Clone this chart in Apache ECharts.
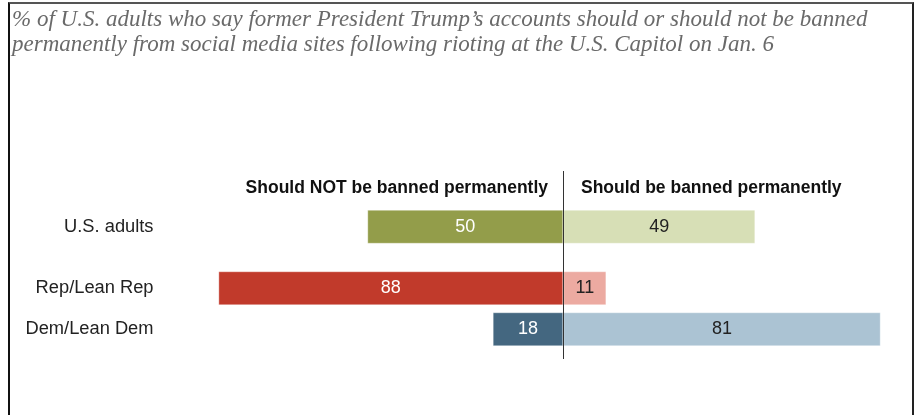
<!DOCTYPE html>
<html>
<head>
<meta charset="utf-8">
<script src="https://cdn.jsdelivr.net/npm/echarts@6/dist/echarts.min.js"></script>
<style>
  html, body { margin: 0; padding: 0; background: #fff; }
  #frame { position: absolute; left: 8px; top: 2px; width: 902px; height: 420px;
           border-left: 2px solid #111; border-right: 2px solid #222; border-top: 2px solid #555; }
  #chart { position: absolute; left: 0; top: 0; width: 916px; height: 415px; }
</style>
</head>
<body>
<div id="frame"></div>
<div id="chart"></div>
<script>
// ---- data ----
const titleLines = [
  "% of U.S. adults who say former President Trump\u2019s accounts should or should not be banned",
  "permanently from social media sites following rioting at the U.S. Capitol on Jan. 6"
];
const categories = ["U.S. adults", "Rep/Lean Rep", "Dem/Lean Dem"];
const notBanned = [50, 88, 18];
const banned = [49, 11, 81];
const headerLeft = "Should NOT be banned permanently";
const headerRight = "Should be banned permanently";
const darkColors = ["#939d4a", "#c13a2b", "#446780"];
const lightColors = ["#d7dfb6", "#ecaaa1", "#abc3d3"];
const darkText = ["#ffffff", "#ffffff", "#ffffff"];
const lightText = ["#222222", "#222222", "#222222"];

// layout: slot index of each row (spacers between groups)
const rowSlot = [0, 3, 5];
const nSlots = 6;
const axisCats = new Array(nSlots).fill("");
rowSlot.forEach((s, i) => { axisCats[s] = categories[i]; });
const leftData = new Array(nSlots).fill("-");
const rightData = new Array(nSlots).fill("-");
rowSlot.forEach((s, i) => {
  leftData[s] = { value: -notBanned[i], itemStyle: { color: darkColors[i] }, label: { color: darkText[i] } };
  rightData[s] = { value: banned[i], itemStyle: { color: lightColors[i] }, label: { color: lightText[i] } };
});

const chart = echarts.init(document.getElementById('chart'), null, { renderer: 'canvas' });
const labelFont = "Liberation Sans, Arial, sans-serif";
chart.setOption({
  animation: false,
  title: [{
    text: titleLines.join("\n"),
    left: 12, top: 7, padding: 0,
    textStyle: { fontFamily: "Liberation Serif, serif", fontStyle: "italic", fontWeight: "normal",
                 fontSize: 23, lineHeight: 25, color: "#6a6a6a" }
  }, {
    text: headerLeft, right: 916 - 548, top: 179, padding: 0,
    textStyle: { fontFamily: labelFont, fontWeight: "bold", fontSize: 17.5, color: "#111" }
  }, {
    text: headerRight, left: 581, top: 179, padding: 0,
    textStyle: { fontFamily: labelFont, fontWeight: "bold", fontSize: 17.5, color: "#111" }
  }],
  grid: [
    { left: 210.5, width: 706.5, top: 216.5, height: 123 },
    { left: 210.5, width: 706.5, top: 171, height: 188 }
  ],
  xAxis: [
    { type: 'value', min: -90, max: 90, show: false, gridIndex: 0 },
    { type: 'value', min: -90, max: 90, show: false, gridIndex: 1 }
  ],
  yAxis: [
    { type: 'category', data: axisCats, inverse: true, gridIndex: 0,
      axisLine: { show: false }, axisTick: { show: false }, splitLine: { show: false },
      axisLabel: { interval: 0, margin: 57, fontFamily: labelFont, fontSize: 18.3, color: "#222" } },
    { type: 'category', data: [""], gridIndex: 1, show: false }
  ],
  series: [
    { type: 'bar', name: headerLeft, data: leftData, barWidth: 34, barGap: '-100%', clip: false,
      xAxisIndex: 0, yAxisIndex: 0,
      itemStyle: { borderColor: 'rgba(255,255,255,0.35)', borderWidth: 1 },
      label: { show: true, position: 'inside', fontFamily: labelFont, fontSize: 18,
               formatter: p => Math.abs(p.value) } },
    { type: 'bar', name: headerRight, data: rightData, barWidth: 34, barGap: '-100%', clip: false,
      xAxisIndex: 0, yAxisIndex: 0,
      itemStyle: { borderColor: 'rgba(255,255,255,0.35)', borderWidth: 1 },
      label: { show: true, position: 'inside', fontFamily: labelFont, fontSize: 18 } },
    { type: 'bar', data: ["-"], xAxisIndex: 1, yAxisIndex: 1, silent: true,
      markLine: { silent: true, symbol: 'none', label: { show: false },
                  lineStyle: { color: '#333', width: 1, type: 'solid' },
                  data: [{ xAxis: 0 }] } }
  ]
});
</script>
</body>
</html>
